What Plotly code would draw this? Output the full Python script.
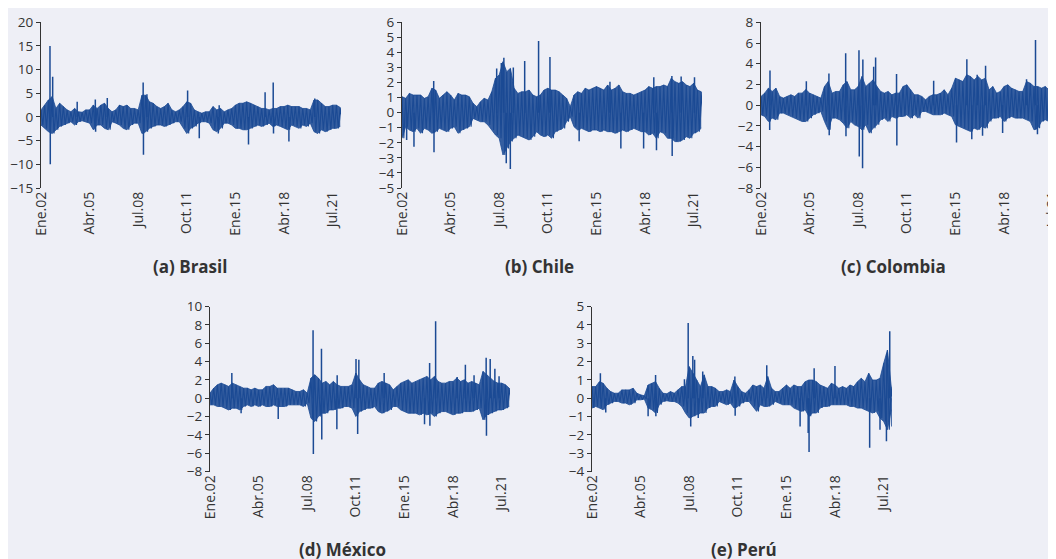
import pandas as pd
import plotly.graph_objects as go

# ---------------- data ----------------
# quarterly envelope readings (upper / lower extent of the daily series), 2002Q1 .. 2022Q1 (81 quarters)
quarters = pd.date_range("2002-01-01", periods=81, freq="QS")

brasil_hi = [1.5, 2.5, 3.6, 4.3, 1.8, 2.9, 2.2, 1.5, 1.1, 1.8, 1.1, 1.0, 1.5, 1.5, 2.5, 1.8, 2.5, 2.9, 1.8, 1.1,
             1.5, 2.5, 2.2, 2.5, 1.8, 1.8, 1.5, 4.6, 4.6, 3.2, 2.9, 2.2, 1.8, 2.2, 2.9, 1.5, 1.1, 1.5, 2.2, 3.2,
             2.9, 1.5, 1.1, 0.8, 1.1, 1.1, 2.2, 1.5, 1.8, 1.1, 1.5, 1.8, 2.5, 2.9, 2.9, 3.2, 2.9, 2.5, 2.2, 1.8,
             1.8, 1.5, 1.8, 1.8, 2.2, 2.2, 2.5, 2.2, 2.2, 2.2, 1.8, 1.8, 1.5, 3.6, 3.6, 2.9, 2.2, 2.2, 2.5, 2.5, 2.0]
brasil_lo = [-1.7, -2.4, -3.1, -3.5, -2.7, -2.0, -1.7, -1.3, -1.0, -1.7, -1.0, -0.8, -1.0, -1.3, -2.7, -1.7, -1.7, -2.4, -2.7, -1.0,
             -1.3, -1.7, -2.4, -2.7, -1.7, -1.3, -1.3, -3.5, -3.1, -2.4, -2.0, -1.7, -1.7, -2.0, -1.7, -1.3, -1.0, -1.0, -2.4, -3.5,
             -2.4, -2.0, -1.3, -1.0, -1.0, -1.3, -2.7, -3.1, -2.4, -1.3, -1.3, -1.7, -2.4, -2.4, -2.7, -2.7, -2.4, -2.0, -1.7, -2.0,
             -1.7, -1.3, -2.0, -1.7, -2.0, -2.4, -2.7, -1.7, -2.0, -2.4, -1.7, -2.0, -1.3, -3.1, -3.5, -2.7, -3.1, -2.7, -2.4, -2.4, -2.0]
brasil_spike_t = [2002.60, 2002.62, 2002.78, 2004.42, 2005.63, 2005.65, 2006.43, 2008.83, 2008.85, 2009.08, 2011.80,
                  2012.58, 2013.85, 2013.91, 2015.87, 2016.98, 2017.52, 2017.54, 2018.57, 2020.30]
brasil_spike_v = [15.0, -10.0, 8.5, 3.2, 3.7, -3.1, 4.0, 7.3, -8.0, 4.8, 5.6,
                  -4.5, -3.5, 2.5, -5.8, 5.2, 7.3, -3.5, -5.2, 3.9]

chile_hi = [1.06, 0.95, 1.28, 1.17, 1.17, 1.17, 0.95, 1.06, 1.62, 1.50, 0.95, 1.17, 1.39, 1.17, 0.84, 1.28, 1.17, 1.17, 1.06, 0.62,
            0.40, 0.73, 0.95, 0.84, 1.39, 2.28, 2.50, 3.38, 2.72, 2.94, 1.62, 1.28, 1.39, 1.39, 1.50, 1.17, 1.06, 1.17, 1.50, 1.62,
            1.50, 1.50, 1.39, 1.17, 0.95, 0.40, 1.17, 1.39, 1.28, 1.62, 1.50, 1.62, 1.73, 1.62, 1.50, 1.84, 1.50, 1.62, 1.84, 1.39,
            1.28, 1.28, 1.17, 1.28, 1.39, 1.50, 1.73, 1.62, 1.73, 1.73, 1.84, 1.73, 2.28, 2.06, 1.95, 2.06, 1.84, 1.73, 1.95, 1.50, 1.39]
chile_lo = [-1.70, -0.93, -1.15, -1.26, -1.04, -1.37, -1.04, -1.15, -1.37, -1.26, -1.04, -1.15, -1.26, -1.04, -0.93, -1.37, -1.15, -1.04, -0.93, -0.38,
            -0.49, -0.60, -0.60, -0.82, -1.15, -1.48, -1.70, -2.81, -2.37, -1.92, -1.70, -1.48, -1.59, -1.70, -1.81, -1.59, -1.26, -1.48, -1.59, -1.48,
            -1.70, -1.26, -1.15, -1.04, -0.60, -0.27, -0.93, -1.15, -1.04, -1.15, -1.26, -1.15, -1.15, -1.26, -1.15, -1.26, -1.26, -1.37, -1.26, -1.15,
            -1.26, -1.15, -1.04, -1.15, -1.26, -1.26, -1.48, -1.37, -1.70, -1.26, -1.37, -1.70, -1.70, -1.92, -1.92, -1.81, -1.59, -1.70, -1.37, -1.26, -1.04]
chile_spike_t = [2002.31, 2002.80, 2004.12, 2004.14, 2008.33, 2008.64, 2008.81, 2008.97, 2009.24, 2009.44, 2010.20, 2011.13,
                 2011.89, 2013.84, 2015.90, 2016.63, 2018.15, 2018.83, 2019.01, 2020.04, 2020.06, 2020.66, 2021.55]
chile_spike_v = [-1.81, -2.26, 2.10, -2.63, 2.94, 3.30, 3.65, -3.36, -3.74, 3.00, 3.43, 4.76,
                 3.70, -1.90, 2.06, -2.37, -2.37, 2.35, -2.50, 2.43, -2.88, 2.40, 2.35]

colombia_hi = [0.84, 1.16, 1.64, 1.32, 1.64, 0.84, 0.68, 0.84, 1.00, 0.84, 1.16, 1.16, 1.50, 1.16, 1.00, 0.84, 0.68, 1.80, 2.28, 1.16,
               1.32, 1.32, 1.96, 2.28, 1.48, 1.48, 1.80, 2.77, 1.80, 2.12, 2.44, 1.80, 1.32, 1.16, 1.32, 1.00, 1.16, 1.16, 1.80, 1.96,
               1.48, 1.00, 1.00, 0.84, 0.51, 0.84, 1.00, 1.00, 1.16, 1.48, 1.00, 1.64, 2.60, 2.44, 2.28, 2.93, 2.77, 2.44, 2.77, 2.44,
               2.60, 1.48, 1.80, 1.16, 1.32, 1.80, 1.96, 1.64, 1.48, 1.32, 1.32, 2.28, 2.12, 1.80, 1.80, 1.64, 1.80, 1.48, 1.48, 1.48, 1.32]
colombia_lo = [-0.93, -1.09, -1.58, -1.25, -1.41, -0.77, -0.77, -0.93, -1.09, -1.25, -1.41, -1.58, -1.58, -1.25, -0.93, -0.77, -0.61, -1.58, -2.38, -1.25,
               -1.25, -1.41, -1.74, -2.22, -1.58, -1.90, -2.06, -2.38, -1.90, -2.70, -2.22, -1.90, -1.41, -1.25, -1.58, -1.09, -1.25, -1.09, -1.09, -0.93,
               -1.25, -0.93, -1.25, -0.61, -0.61, -0.77, -0.93, -0.93, -0.93, -0.77, -0.93, -1.09, -1.90, -2.06, -2.22, -2.38, -2.54, -2.22, -2.38, -2.06,
               -2.22, -1.58, -1.25, -1.25, -1.09, -1.58, -1.25, -1.09, -1.25, -1.25, -1.25, -1.41, -1.58, -2.38, -2.22, -1.58, -1.41, -1.58, -1.25, -1.25, -1.09]
colombia_spike_t = [2002.60, 2002.58, 2005.03, 2006.54, 2006.56, 2007.66, 2007.68, 2008.55, 2008.57, 2008.79, 2008.81, 2009.53,
                    2009.66, 2011.06, 2011.08, 2013.54, 2015.07, 2015.76, 2016.09, 2016.45, 2016.81, 2017.01, 2018.15, 2019.75, 2020.35, 2020.48]
colombia_spike_v = [3.34, -2.40, 2.30, 3.06, -2.90, 5.00, -3.00, 5.30, -4.95, -6.10, 4.40, 3.70,
                    4.60, 3.00, -3.90, 2.35, -3.60, 4.44, -3.30, 2.93, -2.96, 3.80, -2.70, 2.50, 6.30, -2.80]

mexico_hi = [0.55, 1.09, 1.46, 1.64, 1.46, 1.28, 1.64, 1.46, 1.28, 1.09, 1.09, 0.91, 1.09, 0.91, 0.91, 1.28, 1.28, 1.46, 1.09, 1.09,
             1.09, 1.09, 0.91, 0.73, 0.73, 0.91, 0.55, 2.19, 2.55, 2.19, 1.64, 1.82, 1.46, 1.82, 1.46, 1.28, 1.28, 1.28, 1.46, 2.74,
             2.00, 1.46, 1.28, 1.09, 1.09, 1.64, 1.82, 1.64, 1.46, 0.91, 1.28, 1.64, 1.82, 2.00, 1.64, 1.82, 2.00, 2.19, 2.37, 2.00,
             2.37, 1.82, 1.64, 1.64, 1.82, 1.82, 2.19, 1.82, 2.00, 1.64, 1.82, 1.64, 1.46, 2.92, 2.55, 2.19, 1.82, 1.64, 1.64, 1.46, 1.09]
mexico_lo = [-0.73, -0.73, -0.91, -0.91, -1.09, -1.28, -1.09, -1.09, -1.28, -0.91, -0.73, -0.91, -0.73, -0.91, -0.73, -0.91, -0.91, -0.73, -0.91, -0.91,
             -0.91, -0.73, -0.73, -0.73, -0.73, -0.91, -0.55, -2.19, -2.55, -2.00, -1.64, -1.64, -1.28, -1.28, -1.09, -1.09, -0.91, -0.91, -1.09, -2.00,
             -1.46, -1.28, -1.09, -1.09, -0.91, -1.46, -1.64, -1.46, -1.28, -0.91, -0.91, -1.28, -1.46, -1.64, -1.64, -1.64, -1.82, -1.64, -1.82, -1.64,
             -2.00, -1.64, -1.46, -1.46, -1.64, -1.82, -1.64, -1.64, -1.46, -1.46, -1.46, -1.28, -1.09, -2.37, -1.82, -1.64, -1.46, -1.28, -1.28, -1.09, -0.91]
mexico_spike_t = [2003.46, 2004.08, 2006.56, 2008.89, 2008.91, 2009.45, 2009.47, 2010.48, 2010.50, 2011.76, 2011.87, 2011.95,
                  2013.64, 2016.34, 2016.68, 2016.70, 2017.08, 2018.52, 2019.07, 2019.65, 2020.46, 2020.48, 2020.73, 2021.04, 2021.32]
mexico_spike_v = [2.74, -1.64, -2.26, 7.40, -6.10, 5.40, -4.50, -3.40, 2.50, 4.27, -3.90, 4.20,
                  2.74, -2.85, 3.83, -3.00, 8.40, 2.30, 3.65, 2.50, 4.40, -4.10, 4.27, 3.20, 2.40]

peru_hi = [0.63, 0.63, 0.90, 0.81, 0.54, 0.36, 0.27, 0.27, 0.45, 0.45, 0.45, 0.54, 0.27, 0.18, 0.13, 0.72, 0.81, 0.90, 0.54, 0.27,
           0.24, 0.36, 0.27, 0.45, 0.63, 0.63, 1.72, 1.36, 0.99, 0.63, 1.27, 0.63, 0.63, 0.54, 0.36, 0.36, 0.45, 0.36, 0.99, 0.63,
           0.36, 0.27, 0.45, 0.72, 0.63, 0.72, 0.54, 1.18, 0.54, 0.36, 0.36, 0.54, 0.72, 0.54, 0.72, 0.63, 0.63, 0.90, 0.99, 0.99,
           0.90, 0.72, 0.63, 0.54, 0.81, 0.72, 0.54, 0.63, 0.54, 0.72, 0.63, 0.90, 1.08, 0.90, 1.36, 0.99, 0.99, 1.08, 1.90, 2.62, 0.63]
peru_lo = [-0.54, -0.45, -0.54, -0.63, -0.36, -0.27, -0.18, -0.18, -0.27, -0.27, -0.36, -0.27, -0.09, -0.09, -0.05, -0.54, -0.63, -0.81, -0.36, -0.18,
           -0.14, -0.18, -0.18, -0.27, -0.45, -0.81, -1.08, -0.99, -0.90, -0.81, -0.81, -0.54, -0.45, -0.45, -0.18, -0.27, -0.36, -0.27, -0.54, -0.45,
           -0.27, -0.18, -0.18, -0.45, -0.72, -0.36, -0.45, -0.45, -0.36, -0.18, -0.27, -0.36, -0.36, -0.36, -0.54, -0.63, -0.72, -0.63, -0.99, -0.81,
           -0.81, -0.54, -0.45, -0.45, -0.36, -0.36, -0.36, -0.36, -0.36, -0.45, -0.45, -0.54, -0.54, -0.63, -0.72, -0.81, -0.72, -1.08, -1.27, -1.72, -0.63]
peru_spike_t = [2002.56, 2002.92, 2005.75, 2006.25, 2006.27, 2008.18, 2008.43, 2008.60, 2008.74, 2008.86, 2009.10, 2009.40,
                2011.55, 2011.57, 2013.68, 2015.91, 2016.45, 2016.51, 2016.85, 2018.24, 2020.56, 2021.25, 2021.68, 2021.70, 2021.90, 2022.05]
peru_spike_v = [1.36, -0.78, -0.99, 1.27, -0.99, 1.03, 4.10, -1.54, 2.30, 2.09, -1.08, 1.45,
                1.18, -0.96, 1.80, -1.54, -1.90, -2.93, 1.63, 1.75, -2.70, -1.72, -2.35, 2.44, 3.65, -1.54]

tick_dates = ["2002-01-01", "2005-04-01", "2008-07-01", "2011-10-01", "2015-01-01", "2018-04-01", "2021-07-01"]
tick_labels = ["Ene.02", "Abr.05", "Jul.08", "Oct.11", "Ene.15", "Abr.18", "Jul.21"]

panels = [
    # name, hi, lo, spike_t, spike_v, y range, dtick
    ("(a) Brasil", brasil_hi, brasil_lo, brasil_spike_t, brasil_spike_v, [-15, 20], 5),
    ("(b) Chile", chile_hi, chile_lo, chile_spike_t, chile_spike_v, [-5, 6], 1),
    ("(c) Colombia", colombia_hi, colombia_lo, colombia_spike_t, colombia_spike_v, [-8, 8], 2),
    ("(d) México", mexico_hi, mexico_lo, mexico_spike_t, mexico_spike_v, [-8, 10], 2),
    ("(e) Perú", peru_hi, peru_lo, peru_spike_t, peru_spike_v, [-4, 5], 1),
]

# ---------------- layout geometry (page pixels; the page body adds an 8px margin) ----------------
OFF = 8
W, H = 1056 - OFF, 559 - OFF
x_dom = [(41, 341), (402, 702), (761, 1056), (210, 510), (592, 892)]
y_dom = [(22.3, 188), (22.3, 188), (22.3, 188), (306.5, 471.5), (306.5, 471.5)]
x_end = ["2022-01-20", "2022-01-20", "2021-09-20", "2022-01-20", "2022-01-20"]
title_pos = [(190, 266), (539, 266), (893, 266), (342, 549), (744, 549)]

COLOR = "#1B4A94"
BG = "#EEEFF6"
TXT = "#333333"
FONT = "Open Sans"


def to_date(t):
    y = int(t)
    return pd.Timestamp(year=y, month=1, day=1) + pd.Timedelta(days=(t - y) * 365.25)


fig = go.Figure()
layout = {}
half = pd.Timedelta(days=45)
for i, (name, hi, lo, st, sv, yr, dt) in enumerate(panels):
    k = "" if i == 0 else str(i + 1)
    xa, ya = "x" + k, "y" + k
    # envelope band
    fig.add_trace(go.Scatter(x=quarters, y=lo, mode="lines", xaxis=xa, yaxis=ya,
                             line=dict(color=COLOR, width=0.8), showlegend=False, hoverinfo="skip"))
    fig.add_trace(go.Scatter(x=quarters, y=hi, mode="lines", xaxis=xa, yaxis=ya, fill="tonexty",
                             fillcolor="rgba(27,74,148,0.88)", line=dict(color=COLOR, width=0.8),
                             showlegend=False, hoverinfo="skip"))
    # oscillating line: upper reading at quarter start, lower reading mid-quarter
    zx, zy = [], []
    for q, h, l in zip(quarters, hi, lo):
        zx += [q, q + half]
        zy += [h, l]
    fig.add_trace(go.Scatter(x=zx, y=zy, mode="lines", xaxis=xa, yaxis=ya,
                             line=dict(color=COLOR, width=1.1), showlegend=False, hoverinfo="skip"))
    sx, sy = [], []
    for t, v in zip(st, sv):
        d = to_date(t)
        sx += [d, d, None]
        sy += [0, v, None]
    fig.add_trace(go.Scatter(x=sx, y=sy, mode="lines", xaxis=xa, yaxis=ya,
                             line=dict(color=COLOR, width=1.5), showlegend=False, hoverinfo="skip"))

    x0, x1 = x_dom[i]
    yt, yb = y_dom[i]
    layout["xaxis" + k] = dict(
        domain=[(x0 - OFF) / W, min((x1 - OFF) / W, 1.0)], anchor=ya, type="date", automargin=False,
        range=["2002-01-01", x_end[i]], tickvals=tick_dates, ticktext=tick_labels,
        tickangle=-90, tickfont=dict(size=14, color=TXT, family=FONT), ticklabeloverflow="allow",
        showgrid=False, zeroline=False, showline=False, ticks="",
    )
    layout["yaxis" + k] = dict(
        domain=[1 - (yb - OFF) / H, 1 - (yt - OFF) / H], anchor=xa, range=yr, dtick=dt, tick0=0,
        automargin=False, showgrid=False, zeroline=False, showline=True, linecolor=TXT, linewidth=1,
        ticks="outside", ticklen=4, tickcolor=TXT, tickfont=dict(size=13.5, color=TXT, family=FONT),
    )

annotations = []
for (name, *_), (tx, ty) in zip(panels, title_pos):
    annotations.append(dict(text="<b>%s</b>" % name, x=(tx - OFF) / W, y=1 - (ty - OFF) / H,
                            xref="paper", yref="paper", xanchor="center", yanchor="middle", showarrow=False,
                            font=dict(size=17, color=TXT, family=FONT)))

fig.update_layout(
    width=W, height=H, margin=dict(l=0, r=0, t=0, b=0, autoexpand=False),
    paper_bgcolor=BG, plot_bgcolor=BG, annotations=annotations,
    font=dict(family=FONT, color=TXT), **layout,
)

fig.write_html("out.html")
